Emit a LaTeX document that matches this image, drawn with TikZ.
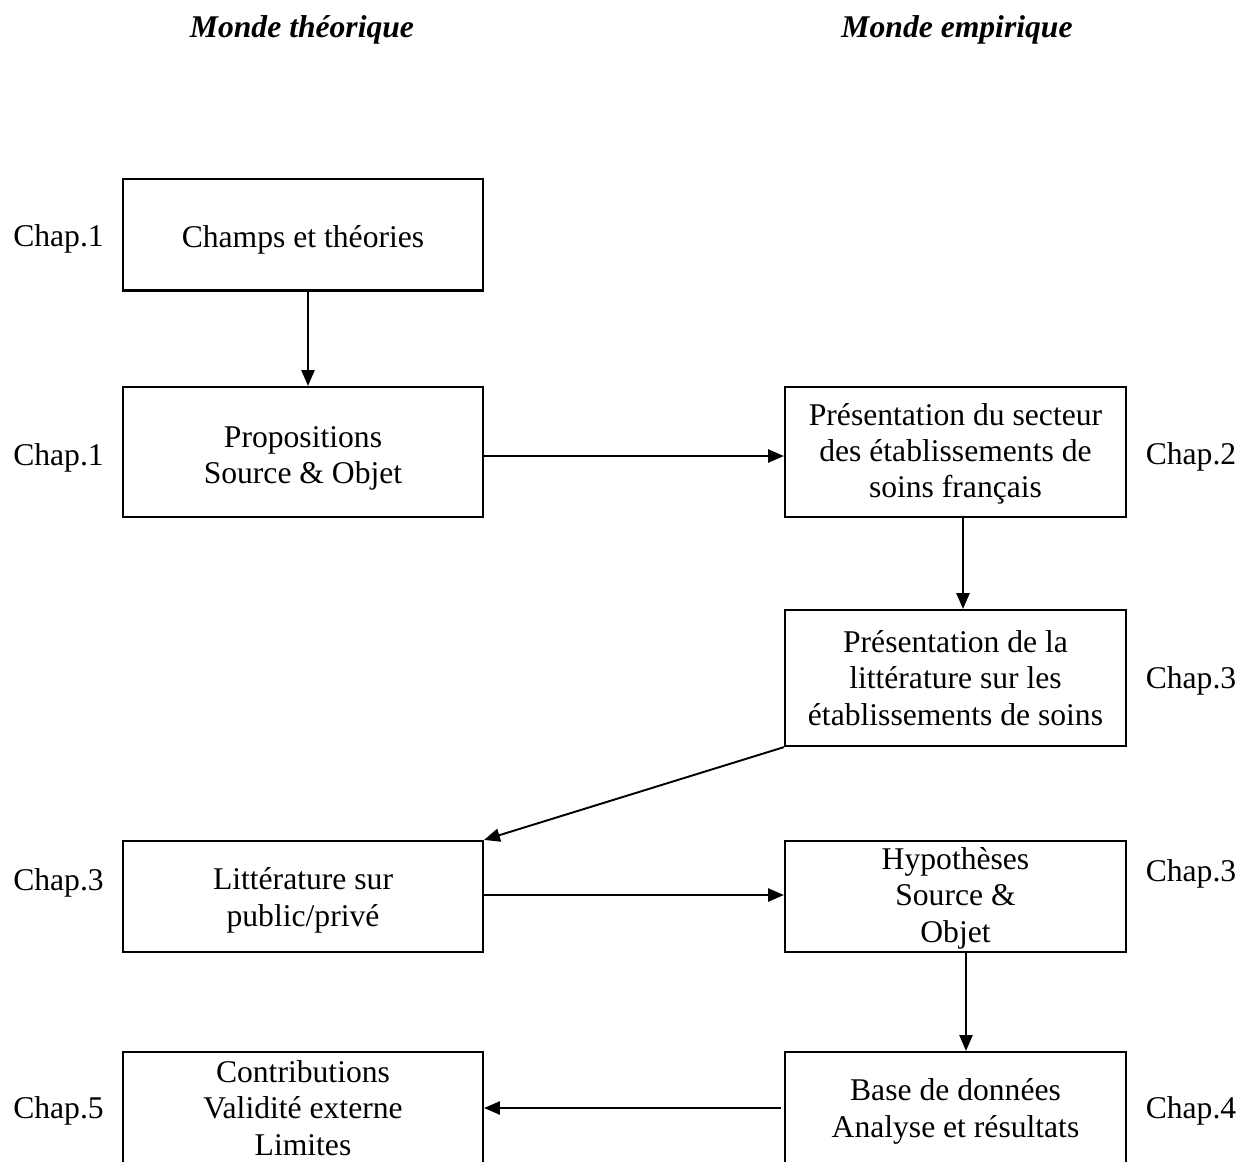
\documentclass[tikz,border=0pt]{standalone}
\usepackage{fontspec}
\setmainfont{Liberation Serif}
\usetikzlibrary{arrows.meta}
\newcommand\boxstrut[1]{\rule{0pt}{#1}}
\begin{document}
\begin{tikzpicture}[x=0.02cm, y=-0.02cm,
  every node/.style={font=\fontsize{18}{20.7}\selectfont, inner sep=0pt},
  box/.style={draw, line width=1.3pt, align=center, minimum width=7.2cm},
  rbox/.style={box, minimum width=6.82cm},
  chap/.style={anchor=base},
  wtitle/.style={anchor=base, font=\fontsize{18}{20.7}\selectfont\bfseries\itshape},
  conn/.style={line width=1.1pt, -{Triangle[length=9pt,width=7.5pt]}}]
\useasboundingbox (0,0) rectangle (1250,1161);
\clip (0,0) rectangle (1250,1161);

% titles
\node[wtitle] (t1) at (302,37) {Monde théorique};
\node[wtitle] (t2) at (957,37) {Monde empirique};

% boxes
\node[box, minimum height=2.23cm] (champs) at (303,234.75) {\boxstrut{18pt}Champs et théories};
\node[box, minimum height=2.6cm] (prop) at (303,452) {\boxstrut{19pt}Propositions\\Source \& Objet};
\node[rbox, minimum height=2.6cm] (secteur) at (955.5,452) {\boxstrut{14.5pt}Présentation du secteur\\des établissements de\\soins français};
\node[rbox, minimum height=2.72cm] (litt) at (955.5,678) {Présentation de la\\littérature sur les\\établissements de soins};
\node[box, minimum height=2.22cm] (public) at (303,896.5) {\boxstrut{17pt}Littérature sur\\public/privé};
\node[rbox, minimum height=2.22cm] (hyp) at (955.5,896.5) {\boxstrut{14.5pt}Hypothèses\\Source \&\\Objet};
\node[box, minimum height=2.24cm] (contrib) at (303,1108) {Contributions\\Validité externe\\Limites};
\node[rbox, minimum height=2.24cm] (base) at (955.5,1108) {\boxstrut{16.5pt}Base de données\\Analyse et résultats};

% chapter labels
\node[chap] (c1a) at (58.5,246) {Chap.1};
\node[chap] (c1b) at (58.5,465) {Chap.1};
\node[chap] (c2) at (1191,464) {Chap.2};
\node[chap] (c3r) at (1191,688) {Chap.3};
\node[chap] (c3l) at (58.5,890) {Chap.3};
\node[chap] (c3h) at (1191,881) {Chap.3};
\node[chap] (c5) at (58.5,1118) {Chap.5};
\node[chap] (c4) at (1191,1118) {Chap.4};

% connectors
\draw[conn] ([xshift=0.1cm]champs.south) -- ([xshift=0.1cm]prop.north);
\draw[conn] ([yshift=-0.08cm]prop.east) -- ([yshift=-0.08cm]secteur.west);
\draw[conn] ([xshift=0.15cm]secteur.south) -- ([xshift=0.15cm]litt.north);
\draw[conn] (litt.south west) -- (public.north east);
\draw[conn] ([yshift=0.03cm]public.east) -- ([yshift=0.03cm]hyp.west);
\draw[conn] ([xshift=0.21cm]hyp.south) -- ([xshift=0.21cm]base.north);
\draw[conn] ([xshift=-0.06cm]base.west) -- (contrib.east);
\end{tikzpicture}
\end{document}
